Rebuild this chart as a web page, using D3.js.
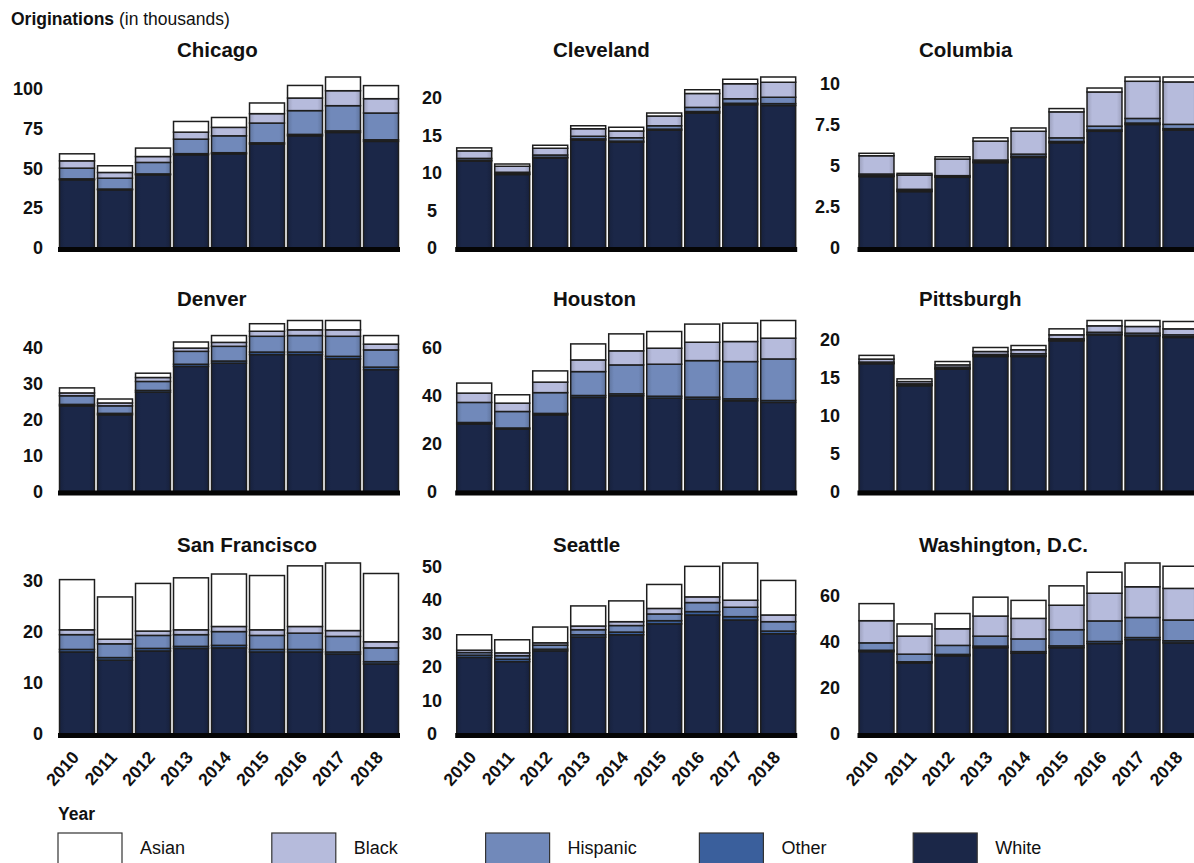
<!DOCTYPE html>
<html>
<head>
<meta charset="utf-8">
<script src="https://cdn.jsdelivr.net/npm/d3@7/dist/d3.min.js"></script>
<style>
  html, body { margin: 0; padding: 0; background: #ffffff; }
  svg { display: block; font-family: "Liberation Sans", Arial, sans-serif; }
</style>
</head>
<body>
<svg id="chart" width="1194" height="863"></svg>
<script>
// ---------------- DATA ----------------
const cities = ["Chicago", "Cleveland", "Columbia", "Denver", "Houston", "Pittsburgh", "San Francisco", "Seattle", "Washington, D.C."];
const years = ["2010", "2011", "2012", "2013", "2014", "2015", "2016", "2017", "2018"];
// stacking order, bottom to top
const races = ["White", "Other", "Hispanic", "Black", "Asian"];
const legendOrder = ["Asian", "Black", "Hispanic", "Other", "White"];

// originations (thousands), one row per city (same order as cities), one value per year
const whiteVals = [
  [42.8, 36.5, 45.9, 58.5, 59.1, 65.2, 70.4, 72.5, 66.9],
  [11.6, 9.8, 12.0, 14.4, 14.1, 15.7, 18.0, 19.1, 19.0],
  [4.34, 3.43, 4.3, 5.19, 5.51, 6.4, 7.1, 7.51, 7.17],
  [23.9, 21.4, 27.7, 34.9, 35.8, 38.2, 38.2, 37.0, 34.0],
  [28.3, 26.1, 32.1, 39.4, 40.1, 39.1, 38.7, 38.0, 37.3],
  [16.85, 13.95, 16.15, 17.8, 17.8, 19.87, 20.66, 20.53, 20.31],
  [16.1, 14.5, 16.3, 16.8, 16.9, 16.1, 16.1, 15.7, 13.75],
  [22.85, 21.6, 24.8, 28.9, 29.6, 32.85, 35.5, 34.0, 29.9],
  [35.7, 30.8, 33.9, 37.4, 35.0, 37.4, 39.2, 40.9, 39.5]
];
const otherVals = [
  [0.6, 0.5, 0.6, 0.7, 0.7, 0.8, 0.9, 1.0, 1.0],
  [0.1, 0.1, 0.1, 0.15, 0.15, 0.15, 0.2, 0.2, 0.25],
  [0.06, 0.05, 0.04, 0.06, 0.07, 0.08, 0.08, 0.09, 0.09],
  [0.4, 0.4, 0.5, 0.6, 0.6, 0.7, 0.7, 0.7, 0.7],
  [0.6, 0.5, 0.6, 0.8, 0.8, 0.8, 0.8, 0.8, 0.8],
  [0.08, 0.08, 0.08, 0.1, 0.1, 0.1, 0.1, 0.1, 0.1],
  [0.5, 0.5, 0.5, 0.4, 0.5, 0.5, 0.5, 0.4, 0.45],
  [0.65, 0.7, 0.5, 0.7, 0.8, 0.95, 1.0, 1.0, 0.8],
  [0.6, 0.5, 0.6, 0.7, 0.7, 0.8, 0.9, 0.9, 0.9]
];
const hispanicVals = [
  [6.7, 6.8, 7.2, 9.1, 10.6, 12.4, 14.9, 15.8, 16.8],
  [0.25, 0.2, 0.3, 0.35, 0.45, 0.45, 0.55, 0.6, 0.85],
  [0.1, 0.09, 0.06, 0.1, 0.13, 0.22, 0.23, 0.28, 0.26],
  [2.4, 2.1, 2.5, 3.6, 4.1, 4.4, 4.6, 5.6, 4.8],
  [8.4, 6.9, 8.7, 10.0, 12.1, 13.4, 15.3, 15.6, 17.4],
  [0.14, 0.17, 0.17, 0.17, 0.26, 0.17, 0.24, 0.25, 0.25],
  [2.9, 2.7, 2.55, 2.3, 2.7, 2.75, 3.2, 3.05, 2.7],
  [0.8, 1.05, 1.2, 1.5, 1.95, 2.0, 2.7, 2.8, 2.8],
  [3.2, 3.3, 3.9, 4.3, 5.5, 7.0, 8.9, 8.7, 9.0]
];
const blackVals = [
  [4.6, 3.6, 3.7, 4.4, 5.3, 5.9, 7.9, 9.4, 9.0],
  [1.0, 0.8, 0.9, 1.0, 0.9, 1.3, 1.85, 2.0, 2.0],
  [1.11, 0.87, 1.01, 1.15, 1.39, 1.58, 2.08, 2.26, 2.58],
  [0.8, 0.8, 1.1, 0.9, 1.1, 1.4, 1.6, 1.8, 1.6],
  [3.9, 3.5, 4.4, 4.9, 5.9, 6.7, 7.7, 8.4, 8.7],
  [0.39, 0.3, 0.3, 0.39, 0.53, 0.52, 0.85, 0.88, 0.79],
  [0.95, 0.9, 0.85, 0.95, 1.0, 1.1, 1.3, 1.15, 1.2],
  [0.7, 0.85, 0.7, 1.1, 1.15, 1.65, 1.7, 2.1, 2.0],
  [9.6, 7.8, 7.2, 8.7, 8.9, 10.6, 12.0, 13.3, 13.7]
];
const asianVals = [
  [4.4, 4.2, 5.3, 6.7, 6.2, 6.7, 7.9, 8.6, 8.2],
  [0.4, 0.3, 0.4, 0.4, 0.5, 0.4, 0.5, 0.6, 0.7],
  [0.15, 0.1, 0.14, 0.2, 0.2, 0.2, 0.24, 0.26, 0.3],
  [1.4, 1.1, 1.2, 1.7, 1.9, 2.1, 2.6, 2.6, 2.4],
  [4.2, 3.5, 4.7, 6.7, 7.1, 7.0, 7.6, 7.7, 7.4],
  [0.49, 0.36, 0.44, 0.53, 0.56, 0.79, 0.7, 0.79, 0.97],
  [9.85, 8.3, 9.35, 10.2, 10.3, 10.65, 11.9, 13.26, 13.4],
  [4.6, 3.9, 4.7, 6.0, 6.2, 7.15, 9.1, 11.1, 10.3],
  [7.4, 5.3, 6.6, 8.2, 7.8, 8.4, 9.1, 10.3, 9.6]
];
// y-axis tick values per city
const yTicks = [
  [0, 25, 50, 75, 100],
  [0, 5, 10, 15, 20],
  [0, 2.5, 5, 7.5, 10],
  [0, 10, 20, 30, 40],
  [0, 20, 40, 60],
  [0, 5, 10, 15, 20],
  [0, 10, 20, 30],
  [0, 10, 20, 30, 40, 50],
  [0, 20, 40, 60]
];

// ---------------- STYLE / LAYOUT ----------------
const colors = { Asian: "#ffffff", Black: "#b6bbdc", Hispanic: "#7189ba", Other: "#3a5f9c", White: "#1b2748" };
const colRanges = [[58, 400], [455.2, 797.2], [857.5, 1199.5]];
const rowBase = [248, 491.5, 734];
const plotH = 171;
const titleX = [177, 553, 919];
const titleY = [57, 306, 552];
const tickX = [43, 432, 840];
const tickAnchor = ["end", "middle", "end"];

const seriesByRace = { White: whiteVals, Other: otherVals, Hispanic: hispanicVals, Black: blackVals, Asian: asianVals };

const svg = d3.select("#chart");

// gradients (soft darker edges as in the reference)
const defs = svg.append("defs");
races.forEach(r => {
  const base = d3.color(colors[r]);
  const edge = r === "Asian" ? base : base.darker(0.45);
  const g = defs.append("linearGradient").attr("id", "grad-" + r).attr("x1", "0").attr("x2", "1").attr("y1", "0").attr("y2", "0");
  g.append("stop").attr("offset", "0").attr("stop-color", edge.formatHex());
  g.append("stop").attr("offset", "0.15").attr("stop-color", base.formatHex());
  g.append("stop").attr("offset", "0.85").attr("stop-color", base.formatHex());
  g.append("stop").attr("offset", "1").attr("stop-color", edge.formatHex());
});

// header
const header = svg.append("text").attr("x", 11).attr("y", 25).attr("font-size", 17.5).attr("fill", "#111");
header.append("tspan").attr("font-weight", "bold").text("Originations");
header.append("tspan").text(" (in thousands)");

cities.forEach((city, ci) => {
  const col = ci % 3, row = Math.floor(ci / 3);
  const base = rowBase[row];
  const rowsData = years.map((y, yi) => {
    const o = { year: y };
    races.forEach(r => { o[r] = seriesByRace[r][ci][yi]; });
    return o;
  });
  const stacked = d3.stack().keys(races)(rowsData);
  const maxTotal = d3.max(rowsData, d => d3.sum(races, r => d[r]));

  const x = d3.scaleBand().domain(years).range(colRanges[col]).paddingInner(0.08).paddingOuter(0.04);
  const y = d3.scaleLinear().domain([0, maxTotal]).range([base, base - plotH]);

  const g = svg.append("g");

  // title
  g.append("text").attr("x", titleX[col]).attr("y", titleY[row])
    .attr("font-size", 20.5).attr("font-weight", "bold").attr("fill", "#111").text(city);

  // bars
  g.selectAll("g.layer").data(stacked).join("g").attr("class", "layer")
    .attr("fill", d => `url(#grad-${d.key})`)
    .selectAll("rect").data(d => d).join("rect")
    .attr("x", d => x(d.data.year))
    .attr("width", x.bandwidth())
    .attr("y", d => y(d[1]))
    .attr("height", d => Math.max(0, y(d[0]) - y(d[1])))
    .attr("stroke", "#1e1e1e").attr("stroke-width", 1.5);

  // thick baseline
  g.append("rect").attr("x", colRanges[col][0]).attr("width", colRanges[col][1] - colRanges[col][0])
    .attr("y", y(0) - 1).attr("height", 5).attr("fill", "#050505");

  // y axis labels
  const yAxis = d3.axisLeft(y).tickValues(yTicks[ci]).tickSize(0).tickFormat(d3.format("~g"));
  const ya = g.append("g").attr("transform", `translate(${tickX[col]},0)`).call(yAxis);
  ya.select(".domain").remove();
  ya.selectAll("text").attr("x", 0).attr("text-anchor", tickAnchor[col])
    .attr("font-size", 18).attr("font-weight", "bold").attr("fill", "#111")
    .attr("font-family", "Liberation Sans, Arial, sans-serif");

  // x axis labels on bottom row
  if (row === 2) {
    const xAxis = d3.axisBottom(x).tickSize(0);
    const xa = g.append("g").attr("transform", `translate(0,${base})`).call(xAxis);
    xa.select(".domain").remove();
    xa.selectAll("text")
      .attr("font-size", 17.5).attr("font-weight", "bold").attr("fill", "#111")
      .attr("font-family", "Liberation Sans, Arial, sans-serif")
      .attr("text-anchor", "end").attr("dy", null).attr("y", 0)
      .attr("transform", "translate(3,24) rotate(-48)");
  }
});

// legend
svg.append("text").attr("x", 58).attr("y", 820).attr("font-size", 17.5).attr("font-weight", "bold").attr("fill", "#111").text("Year");
const lg = svg.append("g").selectAll("g").data(legendOrder).join("g")
  .attr("transform", (d, i) => `translate(${58 + i * 213.8},833)`);
lg.append("rect").attr("width", 64).attr("height", 34).attr("fill", d => colors[d]).attr("stroke", "#333").attr("stroke-width", 1.2);
lg.append("text").attr("x", 82).attr("y", 21).attr("font-size", 18).attr("fill", "#111").text(d => d);
</script>
</body>
</html>
